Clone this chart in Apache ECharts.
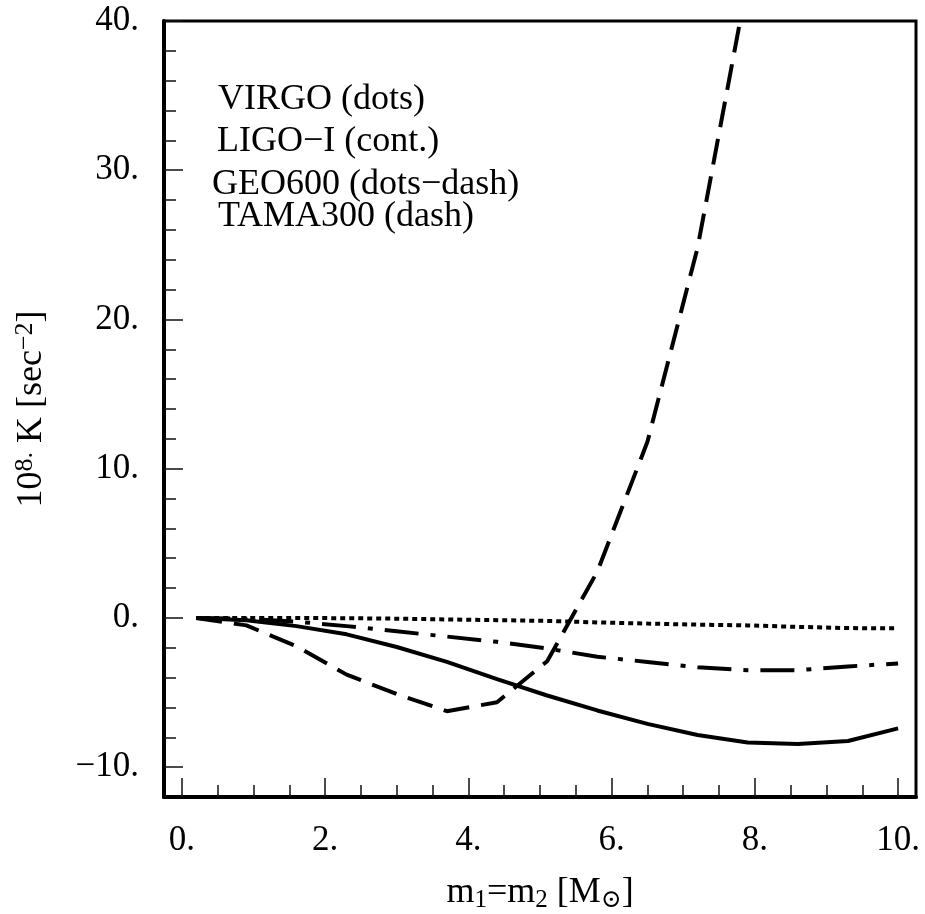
<!DOCTYPE html>
<html>
<head>
<meta charset="utf-8">
<script src="https://cdn.jsdelivr.net/npm/echarts@6/dist/echarts.min.js"></script>
<style>
  html, body { margin: 0; padding: 0; background: #fff; }
  #chart { width: 925px; height: 914px; }
</style>
</head>
<body>
<div id="chart"></div>
<script>
// Binary mass m1 = m2 (solar masses) at which K was evaluated
const masses = [0.2, 0.9, 1.6, 2.3, 3.0, 3.7, 4.4, 5.1, 5.8, 6.5, 7.2, 7.9, 8.6, 9.3, 10.0];

// 10^8 * K [sec^-2] for each detector
const virgo   = [0, 0, 0, -0.02, -0.05, -0.1, -0.15, -0.2, -0.3, -0.38, -0.45, -0.5, -0.6, -0.68, -0.7];
const ligoI   = [0, -0.15, -0.55, -1.1, -1.95, -2.95, -4.1, -5.2, -6.2, -7.1, -7.85, -8.35, -8.45, -8.25, -7.4];
const geo600  = [0, -0.05, -0.25, -0.55, -0.9, -1.25, -1.6, -2.05, -2.6, -2.95, -3.3, -3.5, -3.5, -3.25, -3.05];
const tama300 = [0, -0.5, -1.9, -3.8, -5.1, -6.25, -5.65, -2.9, 3.1, 11.8, 24.8, 42.7];

// Tick positions
const xMajorTicks = [0, 2, 4, 6, 8, 10];
const xMinorTicks = [0, 0.5, 1, 1.5, 2, 2.5, 3, 3.5, 4, 4.5, 5, 5.5, 6, 6.5, 7, 7.5, 8, 8.5, 9, 9.5, 10];
const yMajorTicks = [-10, 0, 10, 20, 30, 40];
const yMinorTicks = [-10, -8, -6, -4, -2, 0, 2, 4, 6, 8, 10, 12, 14, 16, 18, 20, 22, 24, 26, 28, 30, 32, 34, 36, 38];

// Legend lines
const legendLines = ['VIRGO (dots)', 'LIGO\u2212I (cont.)', 'GEO600 (dots\u2212dash)', 'TAMA300 (dash)'];

const FONT = '"Liberation Serif", "DejaVu Serif", serif';
const INK = '#000';

function pairs(values) {
  return values.map((v, i) => [masses[i], v]);
}

function numLabel(v) {
  return (v < 0 ? '\u2212' + (-v) : String(v)) + '.';
}

const richText = {
  n:   { fontFamily: FONT, fontSize: 36, color: INK, lineHeight: 40 },
  sup: { fontFamily: FONT, fontSize: 26, color: INK, lineHeight: 26, verticalAlign: 'top' },
  sub: { fontFamily: FONT, fontSize: 25, color: INK, lineHeight: 25, verticalAlign: 'bottom' }
};

const tickLine = { color: '#111', width: 1.5 };

const chart = echarts.init(document.getElementById('chart'), null, { renderer: 'canvas' });

const option = {
  animation: false,
  backgroundColor: '#fff',
  grid: {
    left: 164, right: 9, top: 21, bottom: 117,
    containLabel: false, outerBoundsMode: 'none',
    show: true, borderColor: INK, borderWidth: 3, backgroundColor: 'transparent'
  },
  xAxis: [
    {
      type: 'value', min: -0.25, max: 10.25, position: 'bottom',
      axisLine: { show: true, onZero: false, lineStyle: { color: INK, width: 4 } },
      axisTick: { show: true, inside: true, length: 19, customValues: xMajorTicks, lineStyle: tickLine },
      axisLabel: {
        show: true, customValues: xMajorTicks, formatter: numLabel,
        fontFamily: FONT, fontSize: 35, color: INK, margin: 26
      },
      splitLine: { show: false },
      name: '{n|m}{sub|1}{n|=m}{sub|2}{n| [M}{sub|\u2299}{n|]}',
      nameLocation: 'middle', nameGap: 76,
      nameTextStyle: { rich: richText }
    },
    {
      type: 'value', min: -0.25, max: 10.25, position: 'bottom',
      axisLine: { show: false, onZero: false },
      axisTick: { show: true, inside: true, length: 12, customValues: xMinorTicks, lineStyle: tickLine },
      axisLabel: { show: false },
      splitLine: { show: false }
    }
  ],
  yAxis: [
    {
      type: 'value', min: -12, max: 40, position: 'left',
      axisLine: { show: true, onZero: false, lineStyle: { color: INK, width: 4 } },
      axisTick: { show: true, inside: true, length: 19, customValues: yMajorTicks, lineStyle: tickLine },
      axisLabel: {
        show: true, customValues: yMajorTicks, formatter: numLabel,
        fontFamily: FONT, fontSize: 35, color: INK, margin: 25
      },
      splitLine: { show: false },
      name: '{n|10}{sup|8.}{n| K [sec}{sup|\u22122}{n|]}',
      nameLocation: 'middle', nameGap: 112, nameRotate: 90,
      nameTextStyle: { rich: richText }
    },
    {
      type: 'value', min: -12, max: 40, position: 'left',
      axisLine: { show: false, onZero: false },
      axisTick: { show: true, inside: true, length: 12, customValues: yMinorTicks, lineStyle: tickLine },
      axisLabel: { show: false },
      splitLine: { show: false }
    }
  ],
  graphic: [
    { type: 'text', left: 218, top: 82,  style: { text: legendLines[0], font: '36px ' + FONT, fill: INK } },
    { type: 'text', left: 217, top: 124, style: { text: legendLines[1], font: '36px ' + FONT, fill: INK } },
    { type: 'text', left: 212, top: 167, style: { text: legendLines[2], font: '36px ' + FONT, fill: INK } },
    { type: 'text', left: 218, top: 199, style: { text: legendLines[3], font: '36px ' + FONT, fill: INK } }
  ],
  series: [
    {
      name: 'LIGO-I', type: 'line', xAxisIndex: 0, yAxisIndex: 0,
      data: pairs(ligoI), symbol: 'none', clip: true,
      lineStyle: { color: INK, width: 4, type: 'solid' }
    },
    {
      name: 'GEO600', type: 'line', xAxisIndex: 0, yAxisIndex: 0,
      data: pairs(geo600), symbol: 'none', clip: true,
      lineStyle: { color: INK, width: 4, type: [34, 12, 5, 12] }
    },
    {
      name: 'TAMA300', type: 'line', xAxisIndex: 0, yAxisIndex: 0,
      data: pairs(tama300), symbol: 'none', clip: true,
      lineStyle: { color: INK, width: 4, type: [26, 12] }
    },
    {
      name: 'VIRGO', type: 'line', xAxisIndex: 0, yAxisIndex: 0,
      data: pairs(virgo), symbol: 'none', clip: true,
      lineStyle: { color: INK, width: 4, type: [5, 4] }
    }
  ]
};

chart.setOption(option);
</script>
</body>
</html>
